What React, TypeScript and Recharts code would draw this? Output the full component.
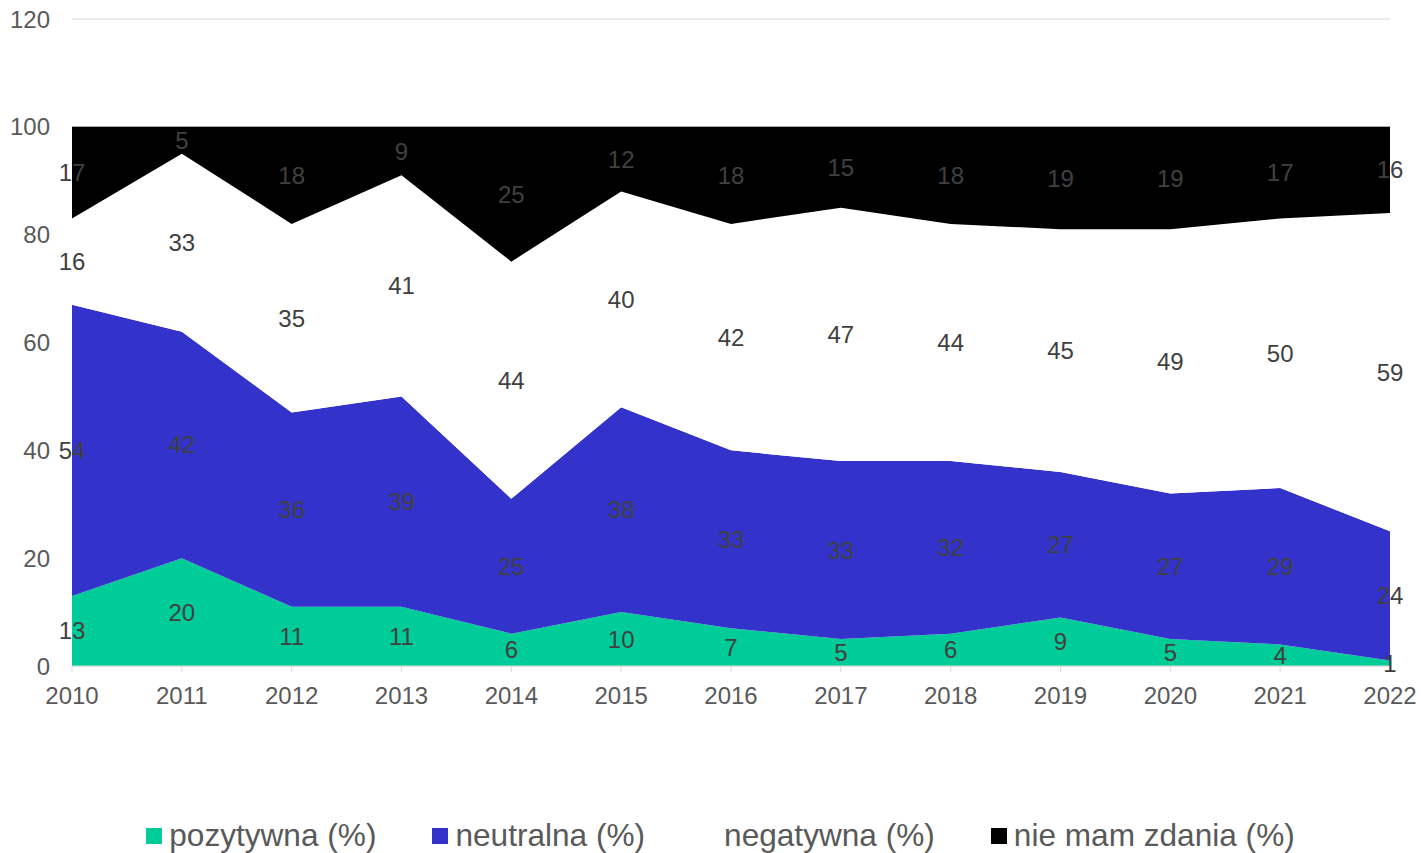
import React from "react";
import {
  AreaChart,
  Area,
  XAxis,
  YAxis,
  CartesianGrid,
  Legend,
  LabelList,
} from "recharts";

const years = ["2010", "2011", "2012", "2013", "2014", "2015", "2016", "2017", "2018", "2019", "2020", "2021", "2022"];
const pozytywna = [13, 20, 11, 11, 6, 10, 7, 5, 6, 9, 5, 4, 1];
const neutralna = [54, 42, 36, 39, 25, 38, 33, 33, 32, 27, 27, 29, 24];
const negatywna = [16, 33, 35, 41, 44, 40, 42, 47, 44, 45, 49, 50, 59];
const nieMamZdania = [17, 5, 18, 9, 25, 12, 18, 15, 18, 19, 19, 17, 16];
const yTicks = [0, 20, 40, 60, 80, 100, 120];

const seriesNames = ["pozytywna (%)", "neutralna (%)", "negatywna (%)", "nie mam zdania (%)"];
const seriesKeys = ["pozytywna", "neutralna", "negatywna", "nieMamZdania"];
const seriesColors = ["#00cc99", "#3333cc", "#ffffff", "#000000"];

const data = years.map((year, i) => ({
  year,
  pozytywna: pozytywna[i],
  neutralna: neutralna[i],
  negatywna: negatywna[i],
  nieMamZdania: nieMamZdania[i],
}));

const WIDTH = 1421;
const HEIGHT = 853;
const MARGIN = { top: 19, right: 31, left: 0, bottom: 0 };
const LEGEND_H = 40;
const XAXIS_H = 147;
const PLOT_H = HEIGHT - MARGIN.top - MARGIN.bottom - LEGEND_H - XAXIS_H;
const PX_PER_UNIT = PLOT_H / 120;

// etykieta na środku warstwy (y to górna krawędź warstwy)
const renderLabel = (props: any) => {
  const vb = props.viewBox || {};
  const x = vb.x ?? props.x;
  const y = vb.y ?? props.y;
  const value = Number(props.value);
  if (x == null || y == null || isNaN(value)) return null;
  return (
    <text
      x={x}
      y={y + (value * PX_PER_UNIT) / 2}
      textAnchor="middle"
      dominantBaseline="central"
      fill="#404040"
      fontSize={24}
      fontFamily="Liberation Sans, Arial, sans-serif"
    >
      {value}
    </text>
  );
};

const renderLegend = () => (
  <div
    style={{
      display: "flex",
      justifyContent: "center",
      alignItems: "center",
      boxSizing: "border-box",
      height: LEGEND_H,
      paddingTop: 5,
      paddingLeft: 51,
      fontFamily: "Liberation Sans, Arial, sans-serif",
      fontSize: 31.6,
      color: "#595959",
      gap: 56,
    }}
  >
    {seriesNames.map((name, i) => (
      <div key={name} style={{ display: "flex", alignItems: "center" }}>
        <span
          style={{
            display: "inline-block",
            width: 16,
            height: 16,
            background: seriesColors[i],
            marginRight: 7,
          }}
        />
        <span style={{ whiteSpace: "nowrap" }}>{name}</span>
      </div>
    ))}
  </div>
);

export default function App() {
  const tickStyle = { fontSize: 24, fill: "#595959", fontFamily: "Liberation Sans, Arial, sans-serif" };
  return (
    <div style={{ position: "absolute", left: 0, top: 0, background: "#fff" }}>
      <AreaChart width={WIDTH} height={HEIGHT} data={data} margin={MARGIN}>
        <CartesianGrid vertical={false} stroke="#d9d9d9" />
        <XAxis
          dataKey="year"
          height={XAXIS_H}
          tick={tickStyle}
          tickSize={6}
          tickMargin={15}
          axisLine={{ stroke: "#d9d9d9" }}
          tickLine={{ stroke: "#d9d9d9" }}
          interval={0}
        />
        <YAxis
          width={72}
          domain={[0, 120]}
          ticks={yTicks}
          tick={tickStyle}
          tickSize={0}
          tickMargin={22}
          axisLine={false}
          tickLine={false}
        />
        <Legend verticalAlign="bottom" height={LEGEND_H} content={renderLegend} />
        {seriesKeys.map((key, i) => (
          <Area
            key={key}
            type="linear"
            dataKey={key}
            name={seriesNames[i]}
            stackId="1"
            fill={seriesColors[i]}
            fillOpacity={1}
            stroke="none"
            isAnimationActive={false}
          >
            <LabelList dataKey={key} content={renderLabel} />
          </Area>
        ))}
      </AreaChart>
    </div>
  );
}
